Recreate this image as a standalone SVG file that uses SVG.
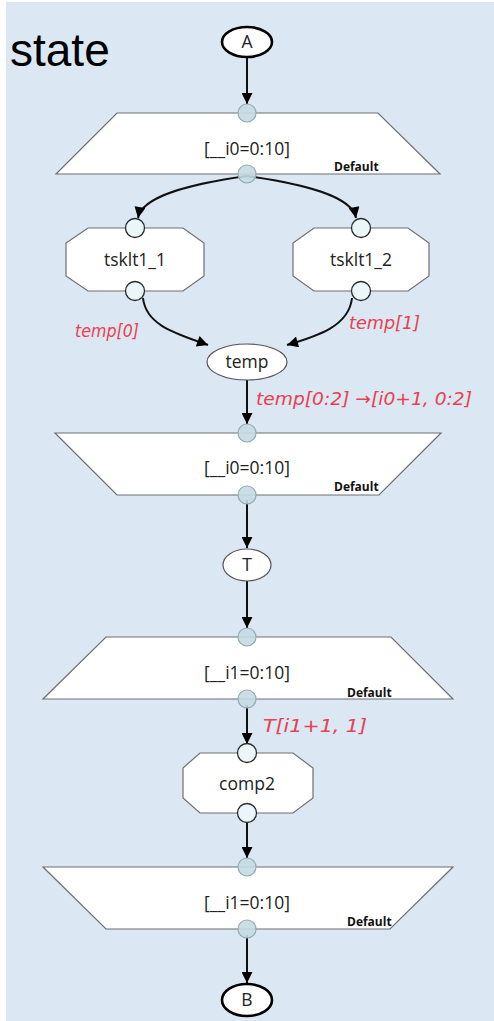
<svg xmlns="http://www.w3.org/2000/svg" width="494" height="1021" viewBox="0 0 494 1021">
<style>
.bg{fill:#dbe7f3}
.map{fill:#ffffff;stroke:#6f6f6f;stroke-width:1.2}
.tsk{fill:#ffffff;stroke:#6f6f6f;stroke-width:1.2}
.mc{fill:#c4dae2;stroke:#93aab3;stroke-width:1.2;fill-opacity:0.9}
.tc{fill:#eaf6fa;stroke:#2a2a2a;stroke-width:1.3}
.acc{fill:#ffffff;stroke:#000;stroke-width:2.6}
.data{fill:#ffffff;stroke:#555;stroke-width:1.2}
.lbl{font-family:"Open Sans","DejaVu Sans",sans-serif;font-size:17.5px;fill:#222;text-anchor:middle}
.def{font-family:"Open Sans","DejaVu Sans",sans-serif;font-size:12px;font-weight:bold;fill:#111}
.edge{fill:none;stroke:#111;stroke-width:2}
.hand{font-family:"DejaVu Sans",sans-serif;font-style:italic;font-size:18px;fill:#e8414f}
</style>
<defs>
<marker id="ah" viewBox="0 0 10 10" refX="10" refY="5" markerWidth="6.5" markerHeight="5.5" orient="auto" markerUnits="strokeWidth">
<path d="M0,0 L10,5 L0,10 z" fill="#000"/>
</marker>
</defs>
<rect x="6" y="2" width="488" height="1019" class="bg"/>
<text x="10" y="66" font-family="Liberation Sans,Arial,sans-serif" font-size="46" fill="#000">state</text>

<g id="connectors">
<line class="edge" x1="247" y1="57" x2="247" y2="104" marker-end="url(#ah)"/>
<path class="edge" d="M247,176 C190,184 142,196 138,218" marker-end="url(#ah)"/>
<path class="edge" d="M247,176 C304,184 352,196 356,218" marker-end="url(#ah)"/>
<path class="edge" d="M143,298 C146,326 178,334 208,345" marker-end="url(#ah)"/>
<path class="edge" d="M352,298 C349,326 318,336 287,345" marker-end="url(#ah)"/>
<line class="edge" x1="247" y1="380" x2="247" y2="424" marker-end="url(#ah)"/>
<line class="edge" x1="247" y1="500" x2="247" y2="548" marker-end="url(#ah)"/>
<line class="edge" x1="247" y1="581" x2="247" y2="628" marker-end="url(#ah)"/>
<line class="edge" x1="247" y1="705" x2="247" y2="744" marker-end="url(#ah)"/>
<line class="edge" x1="247" y1="820" x2="247" y2="858" marker-end="url(#ah)"/>
<line class="edge" x1="247" y1="935" x2="247" y2="983" marker-end="url(#ah)"/>
<text class="hand" x="75" y="337" textLength="64" lengthAdjust="spacingAndGlyphs">temp[0]</text>
<text class="hand" x="349" y="329" textLength="71" lengthAdjust="spacingAndGlyphs">temp[1]</text>
<text class="hand" x="256" y="405" textLength="216" lengthAdjust="spacingAndGlyphs">temp[0:2] →[i0+1, 0:2]</text>
<text class="hand" x="263" y="732" textLength="104" lengthAdjust="spacingAndGlyphs">T[i1+1, 1]</text>
</g>

<g id="A">
<ellipse class="acc" cx="247" cy="42" rx="25" ry="15"/>
<text class="lbl" x="247" y="48">A</text>
</g>

<g id="map_entry_0">
<polygon class="map" points="117,113 378,113 440,174 56,174"/>
<text class="lbl" x="247" y="155">[__i0=0:10]</text>
<text class="def" x="334" y="171">Default</text>
<circle class="mc" cx="247" cy="113" r="9"/>
<circle class="mc" cx="247" cy="174" r="9"/>
</g>

<g id="tsklt1_1">
<polygon class="tsk" points="88,228 183,228 204,243 204,276 183,291 88,291 66,276 66,243"/>
<text class="lbl" x="135" y="266" font-size="18">tsklt1_1</text>
<circle class="tc" cx="135" cy="228" r="9.5"/>
<circle class="tc" cx="135" cy="291" r="9.5"/>
</g>

<g id="tsklt1_2">
<polygon class="tsk" points="314,228 408,228 429,243 429,276 408,291 314,291 293,276 293,243"/>
<text class="lbl" x="361" y="266" font-size="18">tsklt1_2</text>
<circle class="tc" cx="361" cy="228" r="9.5"/>
<circle class="tc" cx="361" cy="291" r="9.5"/>
</g>

<g id="temp">
<ellipse class="data" cx="247" cy="362" rx="40" ry="18"/>
<text class="lbl" x="247" y="368">temp</text>
</g>

<g id="map_exit_0">
<polygon class="map" points="55,433 441,433 379,495 117,495"/>
<text class="lbl" x="247" y="474">[__i0=0:10]</text>
<text class="def" x="334" y="491">Default</text>
<circle class="mc" cx="247" cy="433" r="9"/>
<circle class="mc" cx="247" cy="495" r="9"/>
</g>

<g id="T">
<ellipse class="data" cx="247" cy="565" rx="24" ry="16"/>
<text class="lbl" x="247" y="571">T</text>
</g>

<g id="map_entry_1">
<polygon class="map" points="106,637 391,637 453,699 43,699"/>
<text class="lbl" x="247" y="679">[__i1=0:10]</text>
<text class="def" x="347" y="697">Default</text>
<circle class="mc" cx="247" cy="637" r="9"/>
<circle class="mc" cx="247" cy="699" r="9"/>
</g>

<g id="comp2">
<polygon class="tsk" points="200,753 293,753 313,768 313,798 293,813 200,813 183,798 183,768"/>
<text class="lbl" x="247" y="790" font-size="18">comp2</text>
<circle class="tc" cx="247" cy="753" r="9.5"/>
<circle class="tc" cx="247" cy="813" r="9.5"/>
</g>

<g id="map_exit_1">
<polygon class="map" points="43,867 453,867 390,929 106,929"/>
<text class="lbl" x="247" y="909">[__i1=0:10]</text>
<text class="def" x="347" y="926">Default</text>
<circle class="mc" cx="247" cy="867" r="9"/>
<circle class="mc" cx="247" cy="929" r="9"/>
</g>

<g id="B">
<ellipse class="acc" cx="247" cy="1000" rx="25" ry="16"/>
<text class="lbl" x="247" y="1006">B</text>
</g>
</svg>
